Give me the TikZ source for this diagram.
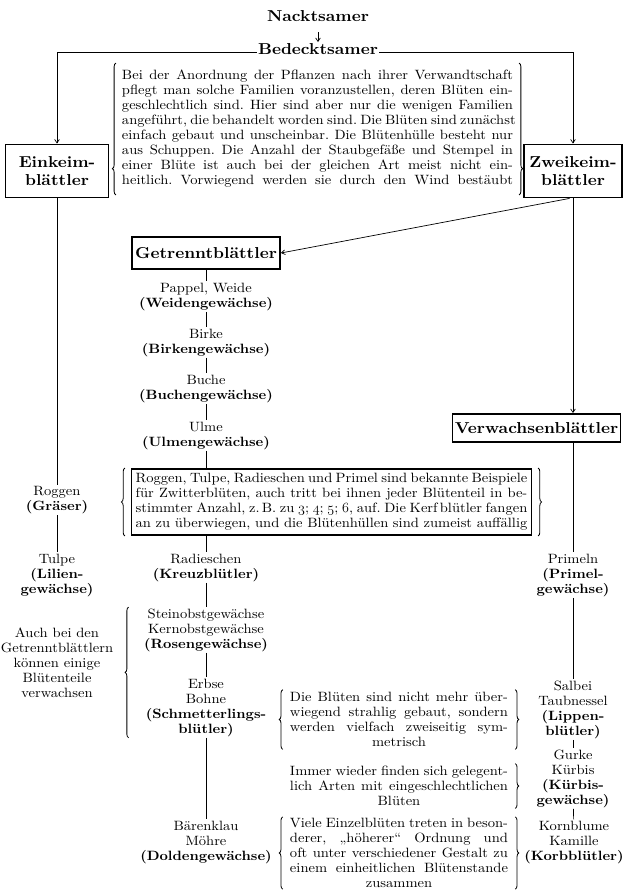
\documentclass[tikz,border=0pt]{standalone}
\usepackage{fontspec}
\setmainfont{lmroman10-regular.otf}[BoldFont=lmroman10-bold.otf, FakeStretch=1.08]
\usepackage{tikz}
\usetikzlibrary{positioning, arrows.meta, calc, decorations.pathreplacing}

\newcommand{\ziffer}[1]{\legacyoldstylenums{#1}}
\newcommand{\zeile}[1]{\hbox to \linewidth{\spaceskip=0pt\xspaceskip=0pt\relax #1}}
\frenchspacing

\tikzset{
  txt/.style={font=\fontsize{11.5}{12.8}\selectfont},
  plant/.style={txt, align=center, inner sep=1pt},
  heading/.style={font=\fontsize{13.5}{16}\selectfont\bfseries, inner sep=1pt},
  taxon/.style={draw, line width=1.3pt, align=center, inner sep=2pt,
    font=\fontsize{13.5}{16}\selectfont\bfseries},
  note/.style={txt, text width=#1, inner xsep=0pt, inner ysep=2pt},
  klammer/.style={decorate, decoration={brace, amplitude=3pt, aspect=#1},
    line width=0.7pt},
  klammer/.default=0.5,
  link/.style={line width=0.6pt},
  pfeil/.style={link, -{Straight Barb[length=3pt, width=4pt]}},
}

\begin{document}
\begin{tikzpicture}[x=0.03cm, y=-0.03cm]
  \useasboundingbox (0,0) rectangle (623,895);

  \node[heading] (nackt) at (318,16) {Nacktsamer};
  \node[heading] (bedeckt) at (318,49) {Bedecktsamer};
  \draw[pfeil, shorten <=8pt] (nackt) -- (bedeckt);

  \node[taxon, minimum width=3.1cm, minimum height=1.6cm] (einkeim) at (57,171) {Einkeim-\\blättler};
  \node[taxon, minimum width=2.95cm, minimum height=1.6cm] (zweikeim) at (573,171) {Zweikeim-\\blättler};
  \draw[pfeil] ([yshift=2pt]bedeckt.base west) -| (einkeim);
  \draw[pfeil] ([yshift=2pt]bedeckt.base east) -| (zweikeim);

  \node[note=11.73cm, inner ysep=6pt] (anordnung) at (317.5,129) {%
    \zeile{Bei der Anordnung der Pflanzen nach ihrer Verwandtschaft}
    \zeile{pflegt man solche Familien voranzustellen, deren Blüten ein-}
    \zeile{geschlechtlich sind. Hier sind aber nur die wenigen Familien}
    \zeile{angeführt, die behandelt worden sind. Die Blüten sind zunächst}
    \zeile{einfach gebaut und unscheinbar. Die Blütenhülle besteht nur}
    \zeile{aus Schuppen. Die Anzahl der Staubgefäße und Stempel in}
    \zeile{einer Blüte ist auch bei der gleichen Art meist nicht ein-}
    \zeile{heitlich. Vorwiegend werden sie durch den Wind bestäubt}};
  \draw[klammer=0.2] ([xshift=-5pt]anordnung.south west) -- ([xshift=-5pt]anordnung.north west);
  \draw[klammer=0.8] ([xshift=5pt]anordnung.north east) -- ([xshift=5pt]anordnung.south east);

  \node[taxon, minimum width=4.45cm, minimum height=0.95cm] (getrennt) at (206,253) {Getrenntblättler};
  \node[taxon, minimum width=5.0cm, minimum height=0.85cm] (verwachsen) at (536.5,428) {Verwachsenblättler};
  \draw[pfeil] ([xshift=-3pt]zweikeim.south) -- (getrennt.east);
  \draw[pfeil] (zweikeim) -- (zweikeim |- verwachsen.north);

  \node[plant] (pappel) at (206,296.5) {Pappel, Weide\\\textbf{(Weidengewächse)}};
  \node[plant] (birke) at (206,342.5) {Birke\\\textbf{(Birkengewächse)}};
  \node[plant] (buche) at (206,388.5) {Buche\\\textbf{(Buchengewächse)}};
  \node[plant] (ulme) at (206,435.5) {Ulme\\\textbf{(Ulmengewächse)}};

  \node[note=11.75cm, draw, line width=1.3pt, inner xsep=3.5pt, inner ysep=4pt] (zwitter) at (331.5,502) {%
    \zeile{Roggen, Tulpe, Radieschen und Primel sind bekannte Beispiele}
    \zeile{für Zwitterblüten, auch tritt bei ihnen jeder Blütenteil in be-}
    \zeile{stimmter Anzahl, z.\,B. zu \ziffer{3}; \ziffer{4}; \ziffer{5}; \ziffer{6}, auf. Die Kerf\,blütler fangen}
    \zeile{an zu überwiegen, und die Blütenhüllen sind zumeist auffällig}};
  \draw[klammer] ([xshift=-5pt]zwitter.south west) -- ([xshift=-5pt]zwitter.north west);
  \draw[klammer] ([xshift=5pt]zwitter.north east) -- ([xshift=5pt]zwitter.south east);

  \node[plant] (roggen) at (57,500) {Roggen\\\textbf{(Gräser)}};
  \node[plant] (tulpe) at (57,575) {Tulpe\\\textbf{(Lilien-}\\\textbf{gewächse)}};
  \node[plant] (radieschen) at (206,567.5) {Radieschen\\\textbf{(Kreuzblütler)}};
  \node[plant] (primeln) at (573,575) {Primeln\\\textbf{(Primel-}\\\textbf{gewächse)}};

  \node[plant] (rosen) at (206,630) {Steinobstgewächse\\Kernobstgewächse\\\textbf{(Rosengewächse)}};
  \node[plant] (erbse) at (206,707.5) {Erbse\\Bohne\\\textbf{(Schmetterlings-}\\\textbf{blütler)}};
  \node[plant] (doldig) at (206,842) {Bärenklau\\Möhre\\\textbf{(Doldengewächse)}};
  \node[plant] (auch) at (57,663) {Auch bei den\\Getrenntblättlern\\können einige\\Blütenteile\\verwachsen};
  \coordinate (kl) at ($(rosen.west)+(-12pt,0)$);
  \draw[klammer] (kl |- erbse.south) -- (kl |- rosen.north);

  \node[plant] (salbei) at (573,709.5) {Salbei\\Taubnessel\\\textbf{(Lippen-}\\\textbf{blütler)}};
  \node[plant] (gurke) at (573,778.5) {Gurke\\Kürbis\\\textbf{(Kürbis-}\\\textbf{gewächse)}};
  \node[plant] (korb) at (574,842) {Kornblume\\Kamille\\\textbf{(Korbblütler)}};

  \node[note=6.54cm] (zygomorph) at (399,719.5) {%
    \zeile{Die Blüten sind nicht mehr über-}
    \zeile{wiegend strahlig gebaut, sondern}
    \zeile{werden vielfach zweiseitig sym-}
    \zeile{\hfil metrisch\hfil}};
  \draw[klammer] ([xshift=-6pt]zygomorph.south west) -- ([xshift=-6pt]zygomorph.north west);
  \draw[klammer] ([xshift=6pt]zygomorph.north east) -- ([xshift=6pt]zygomorph.south east);

  \node[note=6.54cm] (eingeschl) at (399,786) {%
    \zeile{Immer wieder finden sich gelegent-}
    \zeile{lich Arten mit eingeschlechtlichen}
    \zeile{\hfil Blüten\hfil}};
  \draw[klammer] ([xshift=6pt]eingeschl.north east) -- ([xshift=6pt]eingeschl.south east);

  \node[note=6.54cm, inner ysep=1pt] (stand) at (399,853) {%
    \zeile{Viele Einzelblüten treten in beson-}
    \zeile{derer, „höherer“ Ordnung und}
    \zeile{oft unter verschiedener Gestalt zu}
    \zeile{einem einheitlichen Blütenstande}
    \zeile{\hfil zusammen\hfil}};
  \draw[klammer] ([xshift=-6pt]stand.south west) -- ([xshift=-6pt]stand.north west);
  \draw[klammer] ([xshift=6pt]stand.north east) -- ([xshift=6pt]stand.south east);

  \foreach \a/\b in {einkeim/roggen, roggen/tulpe, getrennt/pappel, pappel/birke,
                     birke/buche, buche/ulme, radieschen/rosen, rosen/erbse,
                     erbse/doldig, primeln/salbei, salbei/gurke, gurke/korb}
    \draw[link] (\a) -- (\b);
  \draw[link] (ulme) -- (ulme |- zwitter.north);
  \draw[link] (zwitter.south -| radieschen) -- (radieschen);
  \draw[link] (verwachsen.south -| primeln) -- (primeln);
\end{tikzpicture}
\end{document}
